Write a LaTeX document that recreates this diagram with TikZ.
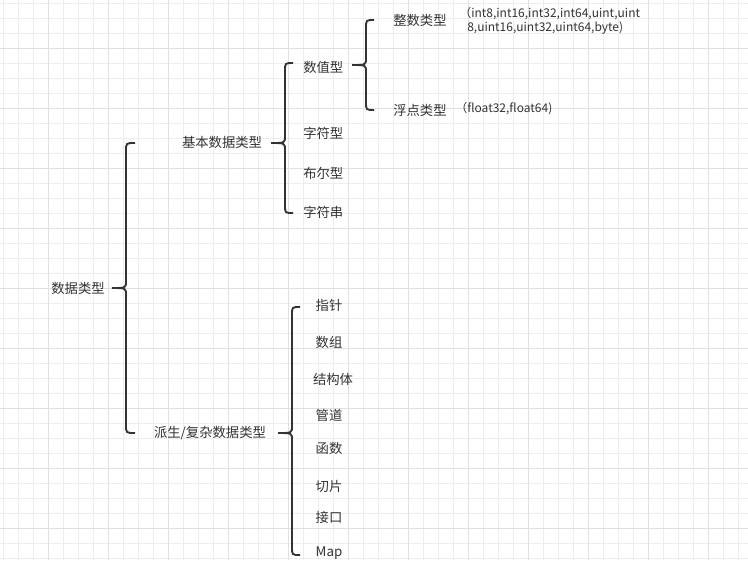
\documentclass[tikz,border=0pt]{standalone}
\usepackage{fontspec}
\setmainfont{Noto Sans CJK SC}
\begin{document}
\begin{tikzpicture}[x=0.75pt,y=-0.75pt,
  txt/.style={font=\fontsize{10pt}{11.5pt}\selectfont,text=black!80,inner sep=0pt},
  br/.style={draw=black!80,line width=1.4pt}]
\fill[white] (0,0) rectangle (748,569);
\useasboundingbox (0,0) rectangle (748,569);
\foreach \i in {0,...,49} {\draw[black!7,line width=0.5pt] (3+15*\i,0) -- (3+15*\i,560);}
\foreach \i in {0,...,37} {\draw[black!7,line width=0.5pt] (0,3+15*\i) -- (748,3+15*\i);}
\foreach \i in {0,...,12} {\draw[black!12,line width=0.6pt] (48+60*\i-60,0) -- (48+60*\i-60,560);}
\foreach \i in {0,...,9} {\draw[black!12,line width=0.6pt] (0,48+60*\i-60) -- (748,48+60*\i-60);}
% braces: tip t, vertical v, end e, top T, mid M, bottom B
\newcommand\mybrace[6]{\draw[br] (#3,#4) .. controls (#2,#4) .. (#2,#4+8) -- (#2,#5-7) .. controls (#2,#5) .. (#1,#5) .. controls (#2,#5) .. (#2,#5+7) -- (#2,#6-8) .. controls (#2,#6) .. (#3,#6);}
\mybrace{112}{126}{135}{143}{288}{433}
\mybrace{271}{285}{293}{63}{143}{213}
\mybrace{352}{366}{374}{20}{65}{110}
\mybrace{278}{292}{300}{307}{433}{555}
\node[txt] (root) at (78,288) {数据类型};
\node[txt] (basic) at (222,142) {基本数据类型};
\node[txt] (deriv) at (210,433) {派生/复杂数据类型};
\node[txt,anchor=west] (num) at (303,67) {数值型};
\node[txt,anchor=west] (chr) at (303,133) {字符型};
\node[txt,anchor=west] (bool) at (303,173) {布尔型};
\node[txt,anchor=west] (str) at (303,212) {字符串};
\node[txt,anchor=west] (int) at (393,20) {整数类型};
\node[txt,anchor=west,font=\fontsize{9pt}{10.5pt}\selectfont,align=left] (intp) at (459,21) {（int8,int16,int32,int64,uint,uint\\[0pt]\hspace*{6pt}8,uint16,uint32,uint64,byte)};
\node[txt,anchor=west] (flt) at (393,110) {浮点类型};
\node[txt,anchor=west,font=\fontsize{9pt}{10.5pt}\selectfont] (fltp) at (455,109) {（float32,float64)};
\node[txt] (a) at (329,305) {指针};
\node[txt] (b) at (329,342) {数组};
\node[txt] (c) at (333,379) {结构体};
\node[txt] (d) at (329,415) {管道};
\node[txt] (e) at (329,448) {函数};
\node[txt] (f) at (329,486) {切片};
\node[txt] (g) at (329,517) {接口};
\node[txt] (h) at (329,553) {Map};
\end{tikzpicture}
\end{document}
